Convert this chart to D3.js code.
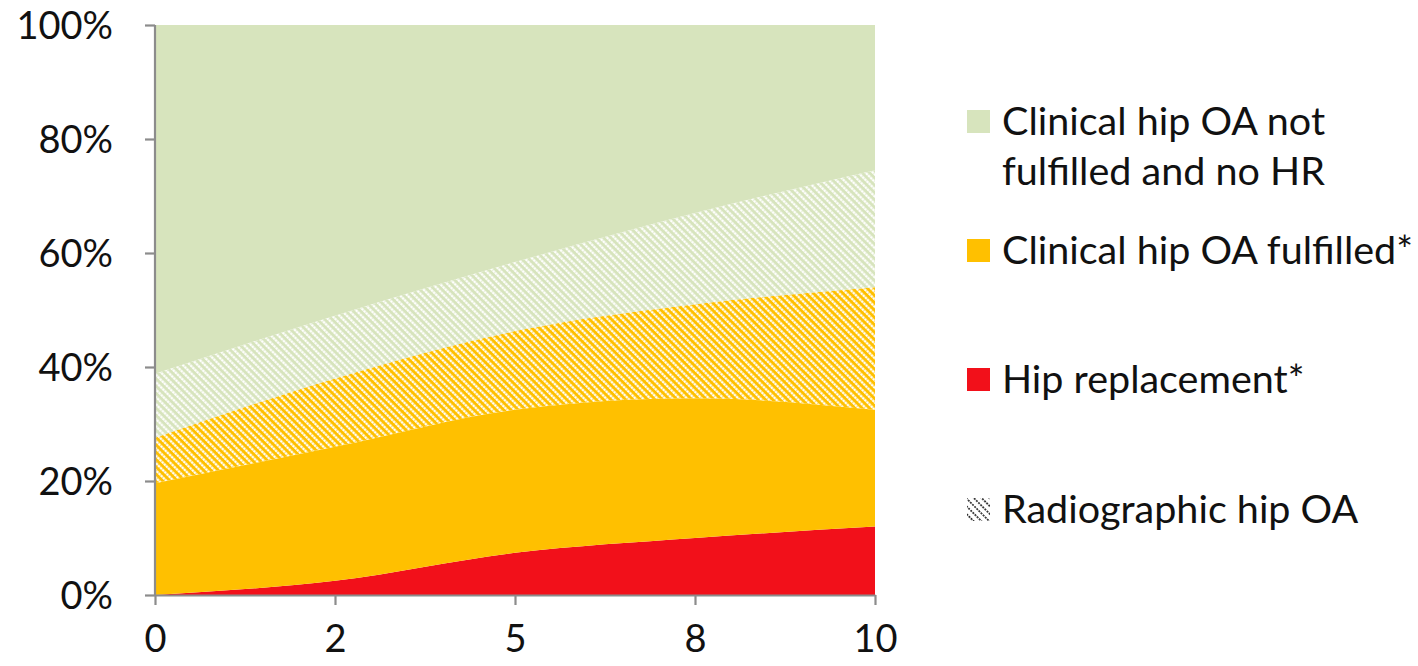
<!DOCTYPE html>
<html>
<head>
<meta charset="utf-8">
<script src="https://cdn.jsdelivr.net/npm/d3@7"></script>
<style>
  html, body { margin: 0; padding: 0; background: #fff; }
  svg { display: block; }
  text { font-family: Lato, "Open Sans", sans-serif; fill: #111; }
</style>
</head>
<body>
<svg id="chart" width="1418" height="666"></svg>
<script>
// ---- Data (percent of participants, stacked bottom-up) ----
const years = ["0", "2", "5", "8", "10"];
const hipReplacement       = [0, 2.5, 7.4, 10, 12];
const clinicalOnly         = [19.6, 23.5, 25.1, 24.5, 20.5];
const clinicalRadiographic = [8, 12, 13.8, 16.5, 21.5];
const radiographicOnly     = [11.2, 11, 12.1, 16, 20.5];
const neither              = [61.2, 51, 41.6, 33, 25.5];
const yTicks = [0, 20, 40, 60, 80, 100];
const legendLabels = [
  ["Clinical hip OA not", "fulfilled and no HR"],
  ["Clinical hip OA fulfilled*"],
  ["Hip replacement*"],
  ["Radiographic hip OA"]
];

const keys = ["hr", "clin", "clinRad", "rad", "none"];
const table = years.map((yr, i) => ({
  year: yr,
  hr: hipReplacement[i],
  clin: clinicalOnly[i],
  clinRad: clinicalRadiographic[i],
  rad: radiographicOnly[i],
  none: neither[i]
}));

const colors = { hr: "#f2101a", clin: "#ffc000", clinRad: "#ffc000", rad: "#d7e4bd", none: "#d7e4bd" };
const hatched = { clinRad: true, rad: true };

const svg = d3.select("#chart");
const mLeft = 155, mRight = 875, mTop = 25, mBottom = 595;

const x = d3.scalePoint().domain(years).range([mLeft, mRight]);
const y = d3.scaleLinear().domain([0, 100]).range([mBottom, mTop]);

// hatch pattern
const defs = svg.append("defs");
const pat = defs.append("pattern")
  .attr("id", "hatch")
  .attr("patternUnits", "userSpaceOnUse")
  .attr("width", 5.2).attr("height", 6)
  .attr("patternTransform", "rotate(-45)");
pat.append("line")
  .attr("x1", 1.2).attr("y1", 0).attr("x2", 1.2).attr("y2", 6)
  .attr("stroke", "#fff").attr("stroke-width", 2.2)
  .attr("stroke-dasharray", "2.4,0.6");

const patL = defs.append("pattern")
  .attr("id", "hatchLegend")
  .attr("patternUnits", "userSpaceOnUse")
  .attr("width", 5.5).attr("height", 6)
  .attr("patternTransform", "rotate(-45)");
patL.append("line")
  .attr("x1", 1).attr("y1", 0).attr("x2", 1).attr("y2", 6)
  .attr("stroke", "#222").attr("stroke-width", 1.6)
  .attr("stroke-dasharray", "2,1");

const series = d3.stack().keys(keys)(table);

const area = d3.area()
  .x(d => x(d.data.year))
  .y0(d => y(d[0]))
  .y1(d => y(d[1]))
  .curve(d3.curveMonotoneX);

const g = svg.append("g");
g.selectAll("path.layer")
  .data(series)
  .join("path")
  .attr("class", "layer")
  .attr("d", area)
  .attr("fill", d => colors[d.key]);

g.selectAll("path.hatch")
  .data(series.filter(s => hatched[s.key]))
  .join("path")
  .attr("class", "hatch")
  .attr("d", area)
  .attr("fill", "url(#hatch)");

// axes
const axisColor = "#8c8c8c";
const yAxis = svg.append("g")
  .attr("transform", `translate(${mLeft},0)`)
  .call(d3.axisLeft(y).tickValues(yTicks).tickSize(10).tickPadding(32).tickFormat(d => d + "%"));
const xAxis = svg.append("g")
  .attr("transform", `translate(0,${mBottom})`)
  .call(d3.axisBottom(x).tickSize(10).tickPadding(20).tickSizeOuter(0));
[yAxis, xAxis].forEach(a => {
  a.select(".domain").attr("stroke", axisColor).attr("stroke-width", 2.2);
  a.selectAll(".tick line").attr("stroke", axisColor).attr("stroke-width", 2.2);
  a.selectAll(".tick text")
    .style("font-family", "Lato, 'Open Sans', sans-serif")
    .style("font-size", "38px")
    .attr("fill", "#111");
});
yAxis.selectAll(".tick text").attr("dy", "0.35em");
xAxis.selectAll(".tick text").attr("dy", "0.71em");
yAxis.select(".domain").attr("d", `M0,${mTop}V${mBottom}`);

// legend
const legendFill = ["#d7e4bd", "#ffc000", "#f2101a", "url(#hatchLegend)"];
const legendY = [121, 250, 379, 509];
const leg = svg.append("g");
legendLabels.forEach((lines, i) => {
  const gy = legendY[i];
  leg.append("rect")
    .attr("x", 967).attr("y", gy - 11).attr("width", 23).attr("height", 23)
    .attr("fill", legendFill[i]);
  lines.forEach((t, j) => {
    leg.append("text")
      .attr("x", 1002).attr("y", gy + j * 50)
      .attr("dy", "0.35em")
      .style("font-size", "39.5px")
      .text(t);
  });
});
</script>
</body>
</html>
